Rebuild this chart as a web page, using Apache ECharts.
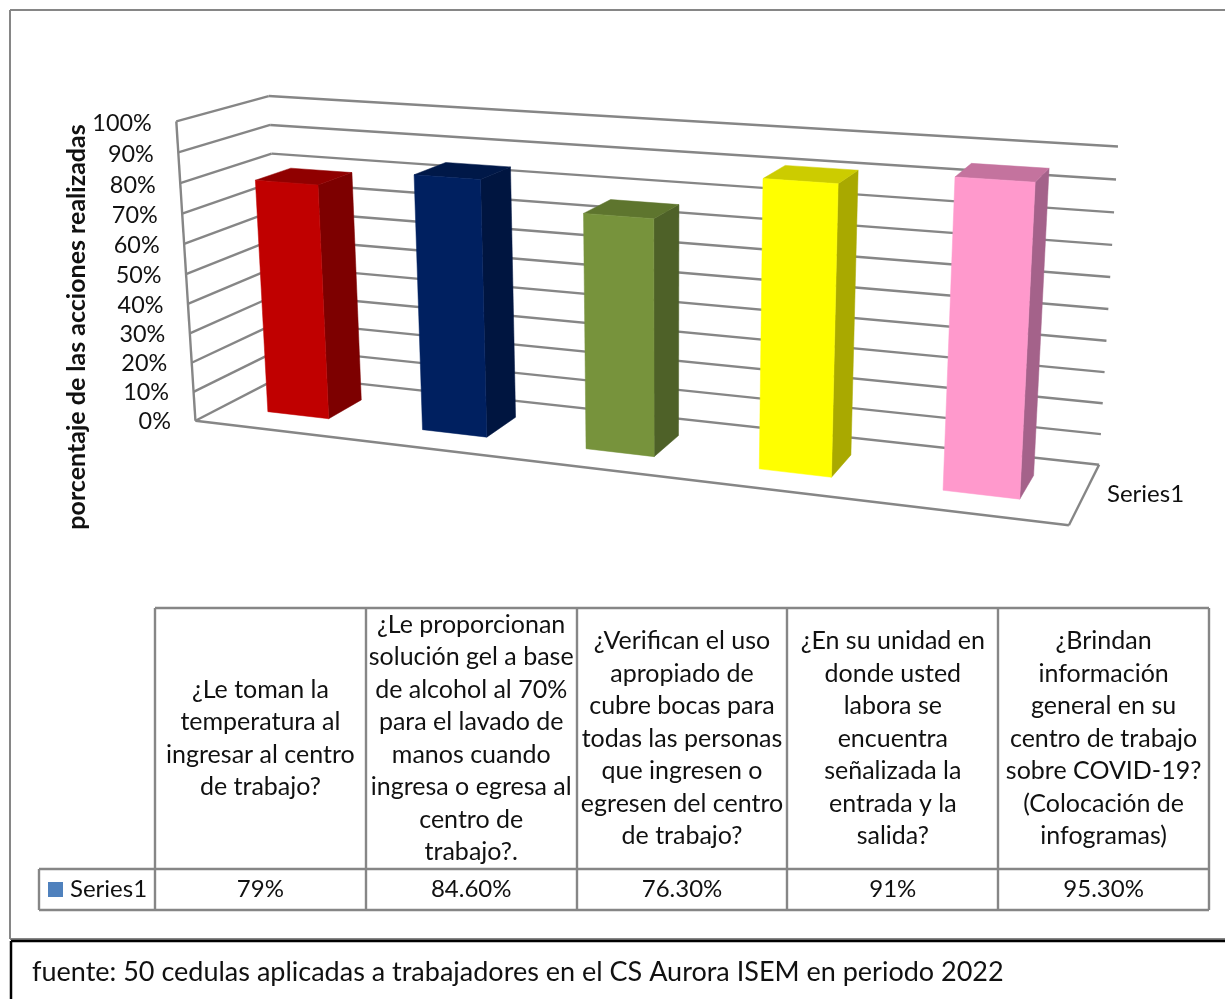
<!DOCTYPE html>
<html>
<head>
<meta charset="utf-8">
<title>Acciones realizadas</title>
<style>html,body{margin:0;padding:0;background:#fff}#chart{width:1225px;height:999px}</style>
<script src="https://cdn.jsdelivr.net/npm/echarts@6/dist/echarts.min.js"></script>
</head>
<body>
<div id="chart"></div>
<script>
// Survey results
const categories = [
  '¿Le toman la\ntemperatura al\ningresar al centro\nde trabajo?',
  '¿Le proporcionan\nsolución gel a base\nde alcohol al 70%\npara el lavado de\nmanos cuando\ningresa o egresa al\ncentro de\ntrabajo?.',
  '¿Verifican el uso\napropiado de\ncubre bocas para\ntodas las personas\nque ingresen o\negresen del centro\nde trabajo?',
  '¿En su unidad en\ndonde usted\nlabora se\nencuentra\nseñalizada la\nentrada y la\nsalida?',
  '¿Brindan\ninformación\ngeneral en su\ncentro de trabajo\nsobre COVID-19?\n(Colocación de\ninfogramas)'
];
const values = [79, 84.6, 76.3, 91, 95.3];
const valueLabels = ['79%', '84.60%', '76.30%', '91%', '95.30%'];
const yTicks = [0, 10, 20, 30, 40, 50, 60, 70, 80, 90, 100];
const seriesName = 'Series1';
const yTitle = 'porcentaje de las acciones realizadas';
const sourceNote = 'fuente: 50 cedulas aplicadas a trabajadores en el CS Aurora ISEM en periodo 2022';

// Front, side and top shades per bar
const frontColors = ['#C00000', '#002060', '#77933C', '#FFFF00', '#FF99CC'];
const sideColors = ['#7D0000', '#001540', '#4E6128', '#A9A900', '#A4628A'];
const topColors = ['#900000', '#001848', '#5E752E', '#CCCC00', '#C4739E'];

const FONT = 'Lato, "Noto Sans", sans-serif';
const GRID_COLOR = '#868686';
const GRID_WIDTH = 2.4;
const TEXT_COLOR = '#111';

// Box corners (u along categories, v into depth, w up) and where the camera sees them.
const cameraAnchors = [
  [0, 0, 0, 195, 420], [0, 0, 1, 177, 122], [0, 1, 1, 268, 95], [0, 1, 0, 284, 378],
  [1, 0, 0, 1069, 527], [1, 1, 0, 1099, 463], [1, 1, 1, 1118, 147], [0.5, 0, 0, 600, 469],
  [0.14, 0.3, 0, 328, 417]
];

function solve(A, b) {
  const n = b.length, M = A.map((r, i) => r.concat(b[i]));
  for (let c = 0; c < n; c++) {
    let p = c;
    for (let r = c + 1; r < n; r++) if (Math.abs(M[r][c]) > Math.abs(M[p][c])) p = r;
    [M[c], M[p]] = [M[p], M[c]];
    for (let r = 0; r < n; r++) {
      if (r === c) continue;
      const f = M[r][c] / M[c][c];
      for (let k = c; k <= n; k++) M[r][k] -= f * M[c][k];
    }
  }
  return M.map((r, i) => r[n] / r[i]);
}

// Least-squares fit of a 3x4 projection with the last element fixed to 1.
function fitCamera(anchors) {
  const rows = [], rhs = [];
  anchors.forEach(([u, v, w, X, Y]) => {
    rows.push([u, v, w, 1, 0, 0, 0, 0, -X * u, -X * v, -X * w]); rhs.push(X);
    rows.push([0, 0, 0, 0, u, v, w, 1, -Y * u, -Y * v, -Y * w]); rhs.push(Y);
  });
  const n = 11;
  const AtA = Array.from({ length: n }, (_, i) => Array.from({ length: n }, (_, j) =>
    rows.reduce((s, r) => s + r[i] * r[j], 0)));
  const Atb = Array.from({ length: n }, (_, i) => rows.reduce((s, r, k) => s + r[i] * rhs[k], 0));
  return solve(AtA, Atb);
}
const P = fitCamera(cameraAnchors);
function project(u, v, w) {
  const d = P[8] * u + P[9] * v + P[10] * w + 1;
  return [(P[0] * u + P[1] * v + P[2] * w + P[3]) / d, (P[4] * u + P[5] * v + P[6] * w + P[7]) / d];
}

const BAR_FILL = 0.4;   // share of a category band taken by a bar
const DEPTH_NEAR = 0.3, DEPTH_FAR = 0.7;
const GRID = { left: 195, top: 122, width: 873, height: 298 };

// Flat axis position to normalised box coordinates
function toBox(params, pt) {
  const c = params.coordSys;
  return [(pt[0] - c.x) / c.width, (c.y + c.height - pt[1]) / c.height];
}
const line = (a, b) => ({
  type: 'line',
  shape: { x1: a[0], y1: a[1], x2: b[0], y2: b[1] },
  style: { stroke: GRID_COLOR, lineWidth: GRID_WIDTH }, silent: true
});

function renderWalls(params, api) {
  const [, w] = toBox(params, api.coord([0, api.value(1)]));
  const kids = [
    line(project(0, 0, w), project(0, 1, w)),
    line(project(0, 1, w), project(1, 1, w))
  ];
  if (params.dataIndex === 0) {
    kids.push(line(project(0, 0, 0), project(1, 0, 0)));
    kids.push(line(project(1, 0, 0), project(1, 1, 0)));
    kids.push(line(project(0, 0, 0), project(0, 0, 1)));
  }
  return { type: 'group', children: kids };
}

function renderTickLabels(params, api) {
  const [, w] = toBox(params, api.coord([0, api.value(1)]));
  const p = project(0, 0, w);
  return {
    type: 'text', silent: true,
    style: {
      x: p[0] - 24.5, y: p[1] + 2 * w + 0.5, text: api.value(1) + '%',
      textAlign: 'right', textVerticalAlign: 'middle',
      font: '23.4px ' + FONT, fill: TEXT_COLOR
    }
  };
}

function renderBar(params, api) {
  const i = params.dataIndex;
  const pt = api.coord([api.value(0), api.value(1)]);
  const [uc, w] = toBox(params, pt);
  const half = api.size([1, 0])[0] / params.coordSys.width * BAR_FILL / 2;
  const u0 = uc - half, u1 = uc + half;
  const poly = (pts, fill) => ({
    type: 'polygon', shape: { points: pts }, silent: true,
    style: { fill, stroke: fill, lineWidth: 0.5 }
  });
  return {
    type: 'group',
    children: [
      poly([project(u1, DEPTH_NEAR, 0), project(u1, DEPTH_FAR, 0), project(u1, DEPTH_FAR, w), project(u1, DEPTH_NEAR, w)], sideColors[i]),
      poly([project(u0, DEPTH_NEAR, w), project(u1, DEPTH_NEAR, w), project(u1, DEPTH_FAR, w), project(u0, DEPTH_FAR, w)], topColors[i]),
      poly([project(u0, DEPTH_NEAR, 0), project(u1, DEPTH_NEAR, 0), project(u1, DEPTH_NEAR, w), project(u0, DEPTH_NEAR, w)], frontColors[i])
    ]
  };
}

// Data table, frame and source note
const TABLE = { left: 39, stub: 155, right: 1209, top: 608, rowTop: 869, bottom: 910 };
const LINE_HEIGHT = 32.5;
function tableGraphics() {
  const out = [];
  const rule = (x1, y1, x2, y2, stroke, lineWidth) => out.push({
    type: 'line', silent: true, shape: { x1, y1, x2, y2 },
    style: { stroke: stroke || GRID_COLOR, lineWidth: lineWidth || GRID_WIDTH }
  });
  const text = (x, y, t, align, size) => out.push({
    type: 'text', silent: true,
    style: {
      x, y, text: t, textAlign: align, textVerticalAlign: 'middle',
      font: (size || 24) + 'px ' + FONT, fill: TEXT_COLOR, lineHeight: LINE_HEIGHT
    }
  });
  const colW = (TABLE.right - TABLE.stub) / categories.length;

  // chart frame
  rule(10, 10, 1225, 10, GRID_COLOR, 2);
  rule(10, 10, 10, 939, GRID_COLOR, 2);
  rule(10, 939, 1225, 939, GRID_COLOR, 2);

  // table rules
  for (let c = 0; c <= categories.length; c++) {
    const x = Math.round(TABLE.stub + c * colW);
    rule(x, TABLE.top, x, TABLE.bottom);
  }
  rule(TABLE.stub, TABLE.top, TABLE.right, TABLE.top);
  rule(TABLE.left, TABLE.rowTop, TABLE.right, TABLE.rowTop);
  rule(TABLE.left, TABLE.bottom, TABLE.right, TABLE.bottom);
  rule(TABLE.left, TABLE.rowTop, TABLE.left, TABLE.bottom);

  categories.forEach((cat, i) => {
    const cx = TABLE.stub + (i + 0.5) * colW;
    text(cx, (TABLE.top + TABLE.rowTop) / 2, cat, 'center', 25);
    text(cx, (TABLE.rowTop + TABLE.bottom) / 2, valueLabels[i], 'center');
  });

  // legend key in the stub
  out.push({ type: 'rect', silent: true, shape: { x: 48, y: 882, width: 15, height: 15 }, style: { fill: '#4F81BD' } });
  text(70, (TABLE.rowTop + TABLE.bottom) / 2, seriesName, 'left');

  // depth axis label
  text(1107, 494, seriesName, 'left');

  // rotated axis title
  out.push({
    type: 'text', silent: true, x: 77, y: 327, rotation: Math.PI / 2,
    style: { x: 0, y: 0, text: yTitle, textAlign: 'center', textVerticalAlign: 'middle', font: 'bold 25px ' + FONT, fill: TEXT_COLOR }
  });

  // source box
  rule(11, 941, 1225, 941, '#000', 2.5);
  rule(11, 941, 11, 999, '#000', 2.5);
  text(32, 972, sourceNote, 'left', 27);
  return out;
}

const chart = echarts.init(document.getElementById('chart'), null, { renderer: 'canvas' });
chart.setOption({
  animation: false,
  backgroundColor: '#fff',
  grid: GRID,
  tooltip: { show: false },
  xAxis: { type: 'category', data: categories, show: false },
  yAxis: { type: 'value', min: 0, max: 100, interval: 10, show: false },
  series: [
    { type: 'custom', name: 'walls', renderItem: renderWalls, data: yTicks.map(t => [0, t]), encode: { x: 0, y: 1 }, z: 1, clip: false },
    { type: 'custom', name: 'ticks', renderItem: renderTickLabels, data: yTicks.map(t => [0, t]), encode: { x: 0, y: 1 }, z: 2, clip: false },
    { type: 'custom', name: seriesName, renderItem: renderBar, data: values.map((v, i) => [i, v]), encode: { x: 0, y: 1 }, z: 3, clip: false }
  ],
  graphic: { elements: tableGraphics() }
});
</script>
</body>
</html>
